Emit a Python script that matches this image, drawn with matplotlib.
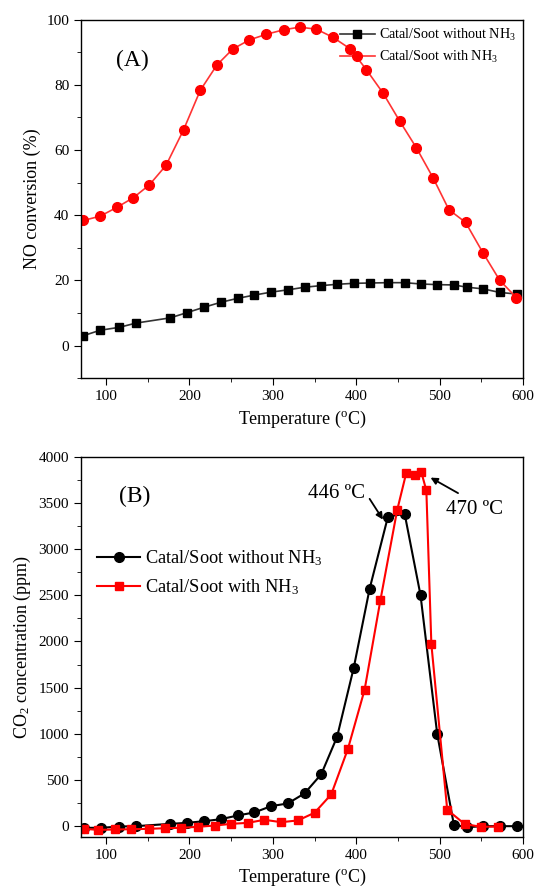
import matplotlib
matplotlib.use("Agg")
import matplotlib.pyplot as plt
from matplotlib.ticker import MultipleLocator

plt.rcParams['font.family'] = ['Liberation Serif', 'DejaVu Serif']
plt.rcParams['mathtext.fontset'] = 'custom'
plt.rcParams['mathtext.rm'] = 'Liberation Serif'
plt.rcParams['mathtext.it'] = 'Liberation Serif:italic'

# (A) NO conversion
a_temp_no = [72.5, 93, 116, 136, 177, 197, 218, 238, 258, 278, 298, 318, 338, 358,
             377, 397, 417, 438, 458, 477, 497, 517, 533, 552, 572, 593]
a_conv_no = [3.0, 4.7, 5.6, 6.9, 8.5, 10.1, 11.8, 13.3, 14.5, 15.5, 16.4, 17.1, 17.9, 18.4,
             18.8, 19.1, 19.2, 19.3, 19.3, 18.9, 18.7, 18.6, 17.9, 17.4, 16.3, 15.8]
a_temp_nh3 = [73, 93, 113, 133, 152, 172, 193, 213, 233, 252, 272, 292, 313, 332, 352,
              372, 393, 412, 432, 452, 472, 492, 511, 531, 552, 572, 592]
a_conv_nh3 = [38.4, 39.7, 42.4, 45.4, 49.3, 55.3, 66.2, 78.3, 86.1, 91.0, 93.8, 95.5, 96.9,
              97.7, 97.1, 94.6, 91.0, 84.7, 77.5, 68.9, 60.7, 51.5, 41.7, 37.8, 28.4, 20.0, 14.7]

# (B) CO2 concentration
b_temp_no = [74, 94, 116, 136, 177, 197, 218, 238, 258, 278, 298, 318, 338, 358, 377,
             397, 416, 438, 458, 477, 497, 517, 533, 552, 572, 593]
b_co2_no = [-18, -18, -4, 0, 25, 36, 54, 76, 116, 149, 217, 246, 355, 562, 967,
            1717, 2571, 3353, 3382, 2502, 1000, 14, -11, 0, 0, 0]
b_temp_nh3 = [74, 90, 111, 130, 151, 171, 190, 210, 231, 250, 270, 290, 310, 330, 350,
              370, 390, 410, 429, 449, 460, 470, 478, 484, 490, 509, 530, 550, 570]
b_co2_nh3 = [-29, -40, -36, -33, -29, -22, -18, -7, 7, 25, 36, 69, 43, 62, 145,
             344, 837, 1478, 2451, 3422, 3829, 3807, 3833, 3636, 1971, 178, 22, -7, -4]

fig = plt.figure(figsize=(5.36, 8.94), dpi=100)
ax1 = fig.add_axes([0.151, 0.577, 0.825, 0.401])
ax2 = fig.add_axes([0.151, 0.064, 0.825, 0.425])

ax1.plot(a_temp_no, a_conv_no, color='#333333', lw=1.2, marker='s', ms=5.5,
         mfc='black', mec='black', label='Catal/Soot without NH$_3$')
ax1.plot(a_temp_nh3, a_conv_nh3, color='#ff3333', lw=1.2, marker='o', ms=7,
         mfc='red', mec='red', label='Catal/Soot with NH$_3$')
ax1.set_xlim(70, 600)
ax1.set_ylim(-10, 100)
ax1.set_xlabel('Temperature ($^{\\rm o}$C)', fontsize=13)
ax1.set_ylabel('NO conversion (%)', fontsize=13)
ax1.text(0.08, 0.87, '(A)', transform=ax1.transAxes, fontsize=17)
ax1.legend(loc='upper right', frameon=False, fontsize=10.2, handlelength=2.5,
           borderaxespad=0.1, labelspacing=0.4, handletextpad=0.3)
ax1.yaxis.set_major_locator(MultipleLocator(20))
ax1.yaxis.set_minor_locator(MultipleLocator(10))

ax2.plot(b_temp_no, b_co2_no, color='black', lw=1.5, marker='o', ms=7,
         label='Catal/Soot without NH$_3$')
ax2.plot(b_temp_nh3, b_co2_nh3, color='red', lw=1.5, marker='s', ms=6,
         label='Catal/Soot with NH$_3$')
ax2.set_xlim(70, 600)
ax2.set_ylim(-115, 4000)
ax2.set_xlabel('Temperature ($^{\\rm o}$C)', fontsize=13)
ax2.set_ylabel('CO$_2$ concentration (ppm)', fontsize=13)
ax2.text(0.085, 0.88, '(B)', transform=ax2.transAxes, fontsize=17)
ax2.legend(loc='center left', bbox_to_anchor=(0.0, 0.695), frameon=False, fontsize=13.2,
           handlelength=2.3, labelspacing=0.55, handletextpad=0.3)
ax2.yaxis.set_major_locator(MultipleLocator(500))
ax2.yaxis.set_minor_locator(MultipleLocator(250))

# peak annotations
ax2.text(376, 3500, '446 ºC', fontsize=15, ha='center', va='bottom')
ax2.annotate('', xy=(432, 3320), xytext=(416, 3545),
             arrowprops=dict(arrowstyle='-|>', color='black', lw=1.3, shrinkA=0, shrinkB=0,
                             mutation_scale=10))
ax2.text(542, 3430, '470 ºC', fontsize=15, ha='center', va='center')
ax2.annotate('', xy=(489, 3775), xytext=(522, 3607),
             arrowprops=dict(arrowstyle='-|>', color='black', lw=1.3, shrinkA=0, shrinkB=0,
                             mutation_scale=10))

for ax in (ax1, ax2):
    ax.xaxis.set_major_locator(MultipleLocator(100))
    ax.xaxis.set_minor_locator(MultipleLocator(50))
    ax.tick_params(which='both', direction='out', top=False, right=False, labelsize=11)
    ax.tick_params(which='major', length=5)
    ax.tick_params(which='minor', length=3)
    for s in ax.spines.values():
        s.set_linewidth(1.0)

fig.savefig('out.png', dpi=100)
